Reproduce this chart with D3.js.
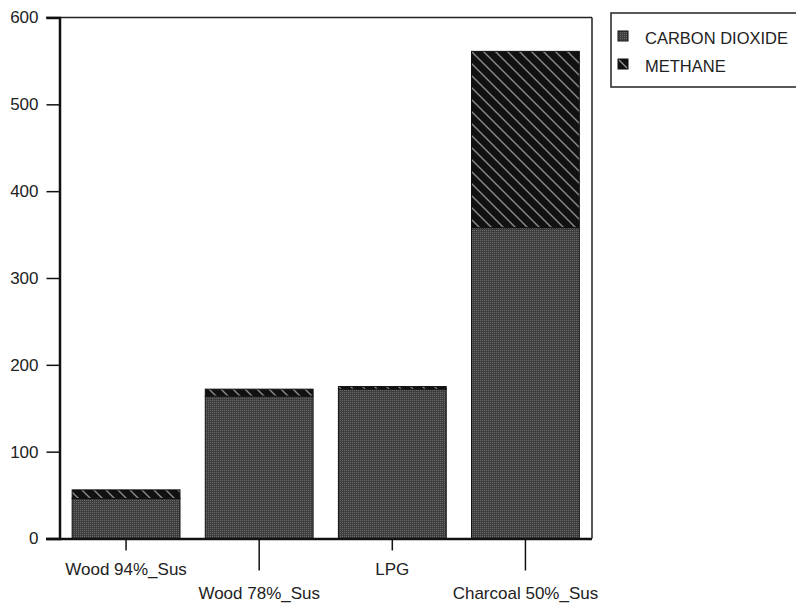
<!DOCTYPE html>
<html><head><meta charset="utf-8">
<script src="https://cdn.jsdelivr.net/npm/d3@7"></script>
<style>body{margin:0;background:#fff}svg{display:block}text{font-family:"Liberation Sans",Arial,sans-serif;fill:#222}</style>
</head><body>
<svg id="c" width="796" height="604"></svg>
<script>
const categories = ["Wood 94%_Sus", "Wood 78%_Sus", "LPG", "Charcoal 50%_Sus"];
const co2 = [46, 164, 172, 358];
const methane = [10, 8, 3, 203];
const seriesNames = ["CARBON DIOXIDE", "METHANE"];
const yTicks = [0, 100, 200, 300, 400, 500, 600];

const svg = d3.select("#c");
const L = 59.5, R = 592, T = 17.5, B = 538.5;

const defs = svg.append("defs");
const pc = defs.append("pattern").attr("id","co2p").attr("patternUnits","userSpaceOnUse").attr("width",2).attr("height",2);
pc.append("rect").attr("width",2).attr("height",2).attr("fill","#3e3e3e");
pc.append("rect").attr("width",1).attr("height",1).attr("fill","#6a6a6a");
const pm = defs.append("pattern").attr("id","ch4p").attr("patternUnits","userSpaceOnUse").attr("width",12).attr("height",12);
pm.append("rect").attr("width",12).attr("height",12).attr("fill","#111");
pm.append("path").attr("d","M0,0L12,12M-6,6L6,18M6,-6L18,6").attr("stroke","#8a8a8a").attr("stroke-width",1.4);

const x = d3.scaleBand().domain(categories).range([L, R]).paddingInner(0.19).paddingOuter(0.095);
const y = d3.scaleLinear().domain([0, 600]).range([B, T]);

const stackData = categories.map((c, i) => ({cat: c, co2: co2[i], methane: methane[i]}));
const stack = d3.stack().keys(["co2", "methane"])(stackData);
const fills = ["url(#co2p)", "url(#ch4p)"];

stack.forEach((layer, li) => {
  svg.append("g").selectAll("rect").data(layer).join("rect")
    .attr("x", d => x(d.data.cat))
    .attr("width", x.bandwidth())
    .attr("y", d => y(d[1]))
    .attr("height", d => y(d[0]) - y(d[1]))
    .attr("fill", fills[li])
    .attr("stroke", "#111").attr("stroke-width", 1);
});

// frame
svg.append("line").attr("x1", 46).attr("x2", R).attr("y1", T).attr("y2", T).attr("stroke","#222").attr("stroke-width",1.5);
svg.append("line").attr("x1", R).attr("x2", R).attr("y1", T).attr("y2", B).attr("stroke","#222").attr("stroke-width",1.5);

// y axis
const ya = svg.append("g").attr("transform", `translate(${L},0)`)
  .call(d3.axisLeft(y).tickValues(yTicks).tickSize(13).tickPadding(8).tickFormat(d3.format("d")));
ya.select(".domain").attr("stroke","#111").attr("stroke-width",2.5);
ya.selectAll(".tick line").attr("stroke","#111").attr("stroke-width",1.5);
ya.selectAll("text").style("font-size","17px").attr("fill","#222");

// x axis
const xa = svg.append("g").attr("transform", `translate(0,${B})`)
  .call(d3.axisBottom(x).tickSize(12).tickSizeOuter(0));
xa.select(".domain").attr("d", `M${46},0.5H${R}`).attr("stroke","#111").attr("stroke-width",2.5);
xa.selectAll(".tick line").attr("stroke","#111").attr("stroke-width",1.5)
  .attr("y2", (d, i) => i % 2 ? 32 : 12);
xa.selectAll(".tick text").style("font-size","17px").attr("fill","#222")
  .attr("dy", null).attr("y", (d, i) => i % 2 ? 60 : 36);

// legend
const lg = svg.append("g");
lg.append("rect").attr("x", 611).attr("y", 13).attr("width", 200).attr("height", 74)
  .attr("fill","#fff").attr("stroke","#222").attr("stroke-width",1.5);
const lfill = ["url(#co2p)", "#111"];
seriesNames.forEach((n, i) => {
  const yy = 31 + i * 28;
  lg.append("rect").attr("x", 618).attr("y", yy).attr("width", 10).attr("height", 10)
    .attr("fill", lfill[i]).attr("stroke", "#111").attr("stroke-width", 1);
  if (i === 1) lg.append("line").attr("x1", 619).attr("y1", yy + 1).attr("x2", 627).attr("y2", yy + 9)
    .attr("stroke", "#999").attr("stroke-width", 1.2);
  lg.append("text").attr("x", 645).attr("y", yy + 13).style("font-size", "16.5px").text(n);
});
</script>
</body></html>
